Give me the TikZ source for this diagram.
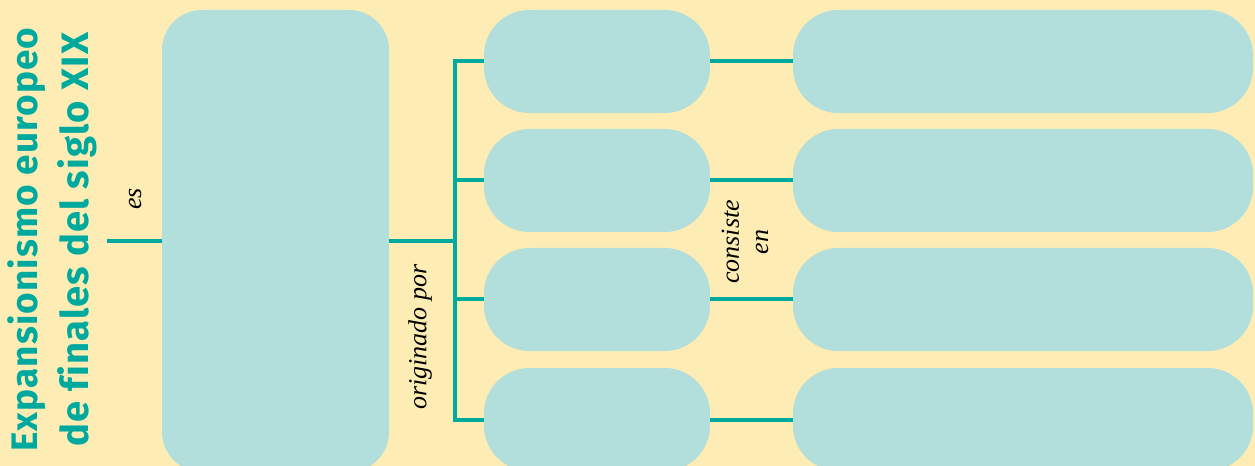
\documentclass[tikz,border=0pt]{standalone}
\usepackage{fontspec}
\setmainfont{Liberation Serif}
\newfontfamily\titlefont{Fira Sans}[LetterSpace=3.0, Ligatures=NoCommon]
\definecolor{bgyellow}{HTML}{FDEDB5}
\definecolor{boxteal}{HTML}{B2DFDB}
\definecolor{lineteal}{HTML}{00A99D}
\tikzset{
  conn/.style={draw=lineteal, line width=3pt},
  bigbox/.style={fill=boxteal, rectangle, rounded corners=30pt, inner sep=0pt,
    minimum width=170.25pt, minimum height=346.5pt},
  midbox/.style={fill=boxteal, rectangle, rounded corners=34pt, inner sep=0pt,
    minimum width=169.5pt, minimum height=77.25pt},
  rightbox/.style={fill=boxteal, rectangle, rounded corners=34pt, inner sep=0pt,
    minimum width=345pt, minimum height=77.25pt},
  lbl/.style={font=\itshape\fontsize{19.5}{22}\selectfont, rotate=90, inner sep=0pt, align=center},
  ttl/.style={font=\titlefont\bfseries\fontsize{28}{32}\selectfont, color=lineteal, rotate=90, inner sep=0pt, anchor=base west}
}
\begin{document}
\begin{tikzpicture}[x=0.75pt, y=-0.75pt]
\fill[bgyellow] (0,0) rectangle (1255,466);
\useasboundingbox (0,0) rectangle (1255,466);
\clip (0,0) rectangle (1255,466);
% title
\node[ttl] (t1) at (37,452) {\resizebox{318pt}{!}{Expansionismo europeo}};
\node[ttl] (t2) at (88,447) {\resizebox{310.5pt}{!}{de finales del siglo XIX}};
% boxes
\node[bigbox] (A) at (275.5,241) {};
\node[midbox] (m1) at (597,61.5) {};
\node[midbox] (m2) at (597,180.5) {};
\node[midbox] (m3) at (597,299.5) {};
\node[midbox] (m4) at (597,419.5) {};
\node[rightbox] (r1) at (1023,61.5) {};
\node[rightbox] (r2) at (1023,180.5) {};
\node[rightbox] (r3) at (1023,299.5) {};
\node[rightbox] (r4) at (1023,419.5) {};
% connectors
\coordinate (esend) at (107,241);
\coordinate (trunk) at (455,241);
\draw[conn] (esend) -- (A.west);
\draw[conn] (A.east) -- (trunk);
\draw[conn, line join=miter] (m1.west) -| (trunk) |- (m4.west);
\draw[conn] (m2.west) -- (m2.west -| trunk);
\draw[conn] (m3.west) -- (m3.west -| trunk);
\foreach \i in {1,2,3,4} {\draw[conn] (m\i.east) -- (r\i.west);}
% labels
\node[lbl] (es) at (135,199) {es};
\node[lbl] (orig) at (420,337) {originado por};
\node[lbl] (cons) at (745,242) {consiste\\en};
\end{tikzpicture}
\end{document}
